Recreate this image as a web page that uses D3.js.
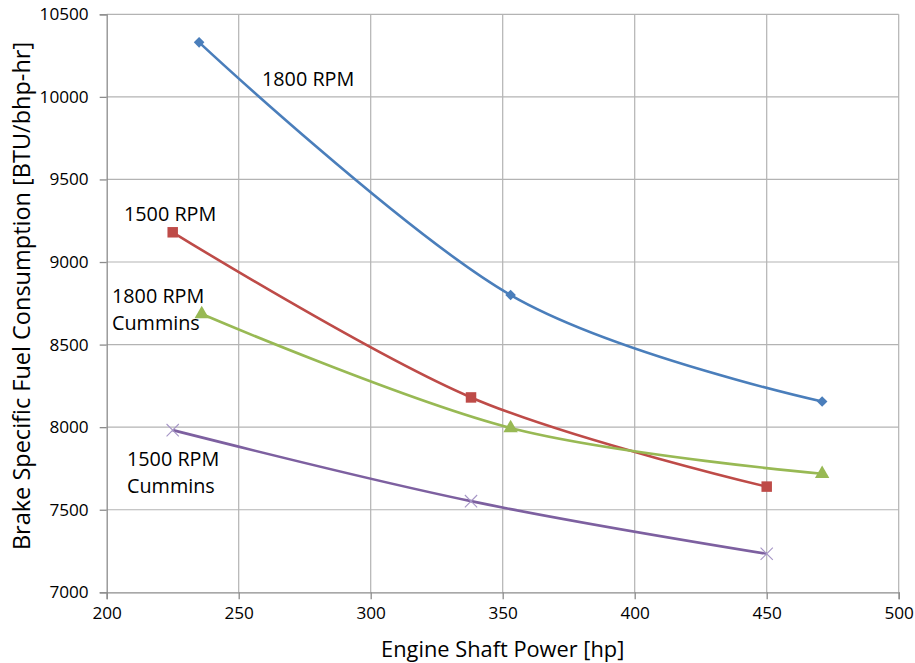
<!DOCTYPE html>
<html lang="en">
<head>
  <title>BSFC chart</title>
  <script src="https://d3js.org/d3.v7.min.js"></script>
  <style>
    body { margin: 0; background: #fff; }
    text { font-family: "Open Sans", sans-serif; fill: #000; }
  </style>
</head>
<body>
  <script>
    // Data
    const xTicks = [200, 250, 300, 350, 400, 450, 500];
    const yTicks = [7000, 7500, 8000, 8500, 9000, 9500, 10000, 10500];

    const rpm1800 = [[235, 10330], [353, 8800], [471, 8155]];
    const rpm1500 = [[225, 9180], [338, 8180], [450, 7640]];
    const rpm1800Cummins = [[236, 8685], [353, 7995], [471, 7718]];
    const rpm1500Cummins = [[225, 7982], [338, 7552], [450, 7233]];

    const seriesNames = ["1800 RPM", "1500 RPM", "1800 RPM Cummins", "1500 RPM Cummins"];
    const seriesColors = ["#4a7ebb", "#be4b48", "#98b954", "#7d60a0"];
    const seriesMarkers = ["diamond", "square", "triangle", "cross"];

    const width = 915, height = 663;
    const margin = { top: 14.3, right: 16.3, bottom: 70.7, left: 106.7 };

    const svg = d3.select("body").append("svg")
      .attr("width", width)
      .attr("height", height);

    const x = d3.scaleLinear().domain([200, 500]).range([margin.left, width - margin.right]);
    const y = d3.scaleLinear().domain([7000, 10500]).range([height - margin.bottom, margin.top]);

    // gridlines
    svg.append("g").selectAll("line")
      .data(xTicks.slice(1))
      .join("line")
      .attr("x1", d => x(d)).attr("x2", d => x(d))
      .attr("y1", y(10500)).attr("y2", y(7000))
      .attr("stroke", "#b3b3b3").attr("stroke-width", 1.2);
    svg.append("g").selectAll("line")
      .data(yTicks.slice(1))
      .join("line")
      .attr("x1", x(200)).attr("x2", x(500))
      .attr("y1", d => y(d)).attr("y2", d => y(d))
      .attr("stroke", "#b3b3b3").attr("stroke-width", 1.2);

    // axes
    const xAxis = svg.append("g")
      .attr("transform", "translate(0," + y(7000) + ")")
      .call(d3.axisBottom(x).tickValues(xTicks).tickSize(7).tickPadding(7));
    const yAxis = svg.append("g")
      .attr("transform", "translate(" + x(200) + ",0)")
      .call(d3.axisLeft(y).tickValues(yTicks).tickSize(7).tickPadding(11).tickFormat(d3.format("d")));
    [xAxis, yAxis].forEach(a => {
      a.select(".domain").attr("stroke", "#8c8c8c").attr("stroke-width", 1.3);
      a.selectAll(".tick line").attr("stroke", "#8c8c8c").attr("stroke-width", 1.3);
      a.selectAll(".tick text").attr("font-size", 17.2).attr("font-family", "'Open Sans', sans-serif").attr("fill", "#000");
    });

    // axis titles
    svg.append("text")
      .attr("x", (x(200) + x(500)) / 2)
      .attr("y", 657)
      .attr("text-anchor", "middle")
      .attr("font-size", 21.8)
      .text("Engine Shaft Power [hp]");
    svg.append("text")
      .attr("transform", "translate(30," + 296 + ") rotate(-90)")
      .attr("text-anchor", "middle")
      .attr("font-size", 23.5)
      .text("Brake Specific Fuel Consumption [BTU/bhp-hr]");

    // lines (smoothed like Excel)
    const line = d3.line()
      .x(d => x(d[0]))
      .y(d => y(d[1]))
      .curve(d3.curveCardinal.tension(0));

    const allSeries = [rpm1800, rpm1500, rpm1800Cummins, rpm1500Cummins];
    allSeries.forEach((s, i) => {
      svg.append("path")
        .datum(s)
        .attr("d", line)
        .attr("fill", "none")
        .attr("stroke", seriesColors[i])
        .attr("stroke-width", 2.6);
    });

    // markers
    const symbolOf = {
      diamond: d3.symbol().type(d3.symbolSquare).size(56),
      square: d3.symbol().type(d3.symbolSquare).size(110),
      triangle: d3.symbol().type(d3.symbolTriangle).size(90),
      cross: d3.symbol().type(d3.symbolX).size(100)
    };
    allSeries.forEach((s, i) => {
      const m = seriesMarkers[i];
      svg.append("g").selectAll("path")
        .data(s)
        .join("path")
        .attr("transform", d => "translate(" + x(d[0]) + "," + y(d[1]) + ")" + (m === "diamond" ? " rotate(45)" : ""))
        .attr("d", symbolOf[m])
        .attr("fill", m === "cross" ? "none" : seriesColors[i])
        .attr("stroke", m === "cross" ? "#a696c6" : "none")
        .attr("stroke-width", 1.1);
    });

    // series labels (one text per line)
    const labels = [
      { lines: ["1800 RPM"], x: 262, y: 86 },
      { lines: ["1500 RPM"], x: 124, y: 221 },
      { lines: ["1800 RPM", "Cummins"], x: 112, y: 303 },
      { lines: ["1500 RPM", "Cummins"], x: 127, y: 466 }
    ];
    labels.forEach((l, i) => {
      l.lines.forEach((s, j) => {
        svg.append("text")
          .attr("x", l.x)
          .attr("y", l.y + j * 27)
          .attr("font-size", 19.8)
          .attr("data-series", seriesNames[i])
          .text(s);
      });
    });
  </script>
</body>
</html>
